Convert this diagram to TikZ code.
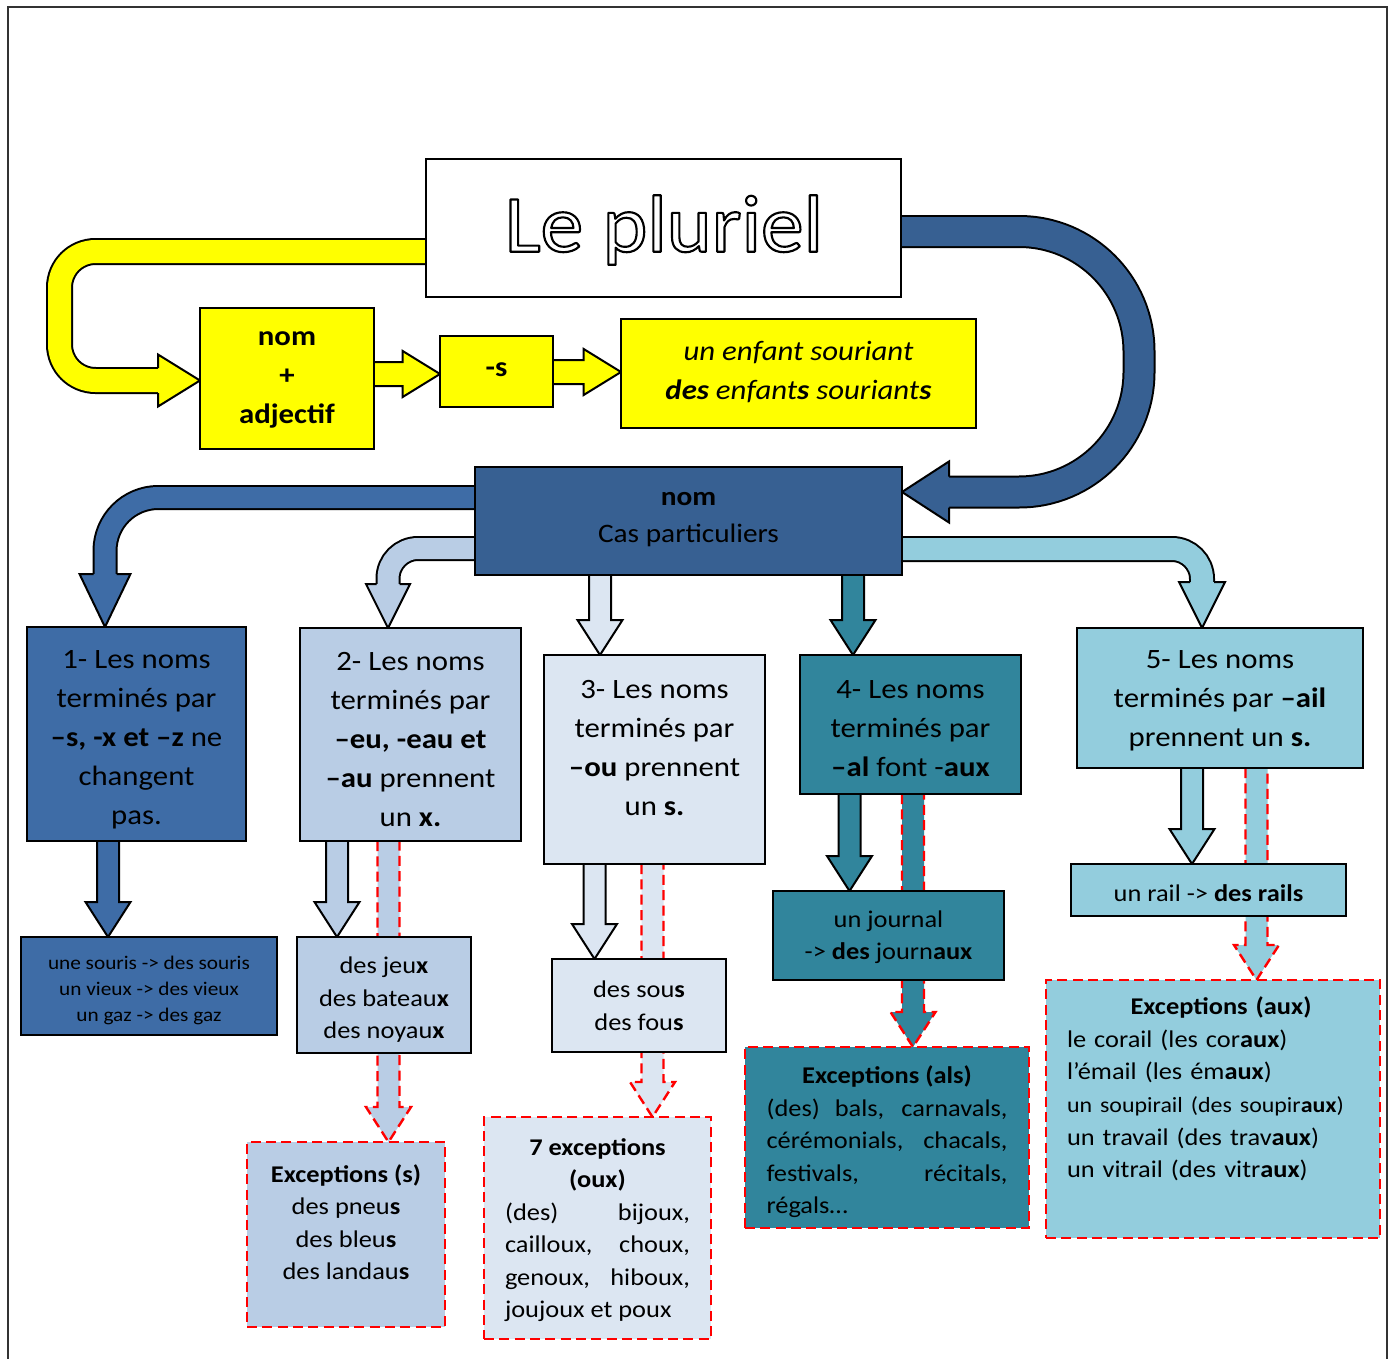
\documentclass[tikz,border=0pt]{standalone}
\usepackage{fontspec}
\setmainfont{Carlito}[FakeStretch=1.1]
\newfontfamily\titlefont{Carlito}[FakeStretch=1.05]
\usetikzlibrary{calc,fit,backgrounds}
\pgfdeclarelayer{bottom}
\pgfsetlayers{bottom,background,main}
\definecolor{nomblue}{RGB}{55,96,146}
\definecolor{blueone}{RGB}{62,108,166}
\definecolor{lbtwo}{RGB}{185,205,229}
\definecolor{lbthree}{RGB}{220,230,242}
\definecolor{tealfour}{RGB}{49,133,156}
\definecolor{lbfive}{RGB}{147,205,221}
\definecolor{yel}{RGB}{255,255,0}
\definecolor{dred}{RGB}{255,0,0}
\newcommand\fLg{\fontsize{21}{29.25}\selectfont}
\newcommand\fNom{\fontsize{20}{27.75}\selectfont}
\newcommand\fMd{\fontsize{18}{24.4}\selectfont}
\newcommand\fSm{\fontsize{14.5}{19.5}\selectfont}
\newcommand\outlinetext[1]{{\color{white}\special{pdf:literal direct 2 Tr 1.6 w 0 G 1 j}#1\special{pdf:literal direct 0 Tr}}}
\newcommand\fatdown[3]{%
 \filldraw[#1] let \p1=#2, \p2=#3 in
  (\x2-8.25pt,\y1) -- (\x2-8.25pt,\y2+26.25pt) -- (\x2-16.875pt,\y2+26.25pt) -- (\x2,\y2) -- (\x2+16.875pt,\y2+26.25pt) -- (\x2+8.25pt,\y2+26.25pt) -- (\x2+8.25pt,\y1);}
\newcommand\fatright[3]{%
 \filldraw[#1] let \p1=#2, \p2=#3 in
  (\x1,\y2+9pt) -- (\x2-28pt,\y2+9pt) -- (\x2-28pt,\y2+17.25pt) -- (\x2,\y2) -- (\x2-28pt,\y2-17.25pt) -- (\x2-28pt,\y2-9pt) -- (\x1,\y2-9pt);}
\newcommand\headdown[5]{%
 \filldraw[#1] let \p1=#2 in (\x1-#3,\y1+#5) -- (\x1-#4,\y1+#5) -- (\x1,\y1) -- (\x1+#4,\y1+#5) -- (\x1+#3,\y1+#5);}
\newcommand\headright[5]{%
 \filldraw[#1] let \p1=#2 in (\x1-#5,\y1+#3) -- (\x1-#5,\y1+#4) -- (\x1,\y1) -- (\x1-#5,\y1-#4) -- (\x1-#5,\y1-#3);}
\newcommand\headleft[5]{%
 \filldraw[#1] let \p1=#2 in (\x1+#5,\y1+#3) -- (\x1+#5,\y1+#4) -- (\x1,\y1) -- (\x1+#5,\y1-#4) -- (\x1+#5,\y1-#3);}
\tikzset{
 box/.style={draw=black, line width=1.8pt, inner sep=0pt, outer sep=0pt},
 dbox/.style={draw=dred, line width=1.9pt, dash pattern=on 7.5pt off 4pt, inner sep=0pt, outer sep=0pt},
 arr/.style={draw=black, line width=1.5pt, line join=miter},
 darr/.style={draw=dred, line width=1.8pt, dash pattern=on 7.5pt off 4pt},
 band/.style={draw=black, line width=1.5pt},
 txt/.style={inner sep=0pt, align=center, text=black},
}
\begin{document}
\begin{tikzpicture}[x=0.75pt, y=-0.75pt]
\useasboundingbox (0,0) rectangle (1392,1359);
\begin{pgfonlayer}{bottom}
\fill[white] (0,0) rectangle (1392,1359);
\end{pgfonlayer}
% boxes
\node[box, fill=white, fit={(426,159)(901,297)}] (title) {};
\node[box, fill=yel, fit={(200,308)(374,449)}] (nomadj) {};
\node[box, fill=yel, fit={(440,336)(553,407)}] (sbox) {};
\node[box, fill=yel, fit={(621,319)(976,428)}] (enfant) {};
\node[box, fill=nomblue, fit={(475,467)(902,575)}] (nom) {};
\node[box, fill=blueone, fit={(27,627)(246,841)}] (b1) {};
\node[box, fill=lbtwo, fit={(300,628)(521,841)}] (b2) {};
\node[box, fill=lbthree, fit={(544,655)(765,864)}] (b3) {};
\node[box, fill=tealfour, fit={(800,655)(1021,794)}] (b4) {};
\node[box, fill=lbfive, fit={(1077,628)(1363,768)}] (b5) {};
\node[box, fill=blueone, fit={(21,937)(277,1035)}] (souris) {};
\node[box, fill=lbtwo, fit={(297,937)(471,1053)}] (jeux) {};
\node[box, fill=lbthree, fit={(552,959)(726,1052)}] (sous) {};
\node[box, fill=tealfour, fit={(773,891)(1004,980)}] (journal) {};
\node[box, fill=lbfive, fit={(1071,864)(1346,916)}] (rail) {};
\node[dbox, fill=lbtwo, fit={(247,1142)(445,1327)}] (excs) {};
\node[dbox, fill=lbthree, fit={(484,1117)(711,1339)}] (excsept) {};
\node[dbox, fill=tealfour, fit={(745,1047)(1029,1228)}] (als) {};
\node[dbox, fill=lbfive, fit={(1046,980)(1380,1238)}] (aux) {};
% arrows
\begin{pgfonlayer}{background}
\coordinate (SY) at ($(title.north west)+(0,92.5)$);
\coordinate (TY) at ($(nomadj.west)+(0,2)$);
\coordinate (HY) at ($(TY)+(-42,0)$);
\coordinate (yL) at (59.5,300);
\draw[band, double=yel, double distance=17.25pt, rounded corners=27pt] (SY) -- (SY -| yL) -- (yL |- HY) -- (HY);
\headright{arr, fill=yel}{(TY)}{9.375pt}{19.5pt}{31.5pt}
\fatright{arr, fill=yel}{(nomadj.east)}{($(sbox.west)+(0,2.5)$)}
\fatright{arr, fill=yel}{(sbox.east)}{($(enfant.west)+(0,-1.5)$)}
\coordinate (S0) at ($(title.north east)+(0,72.5)$);
\coordinate (T0) at ($(nom.north east)+(0,25)$);
\coordinate (H0) at ($(T0)+(47,0)$);
\coordinate (uR) at (1139,300);
\draw[band, double=nomblue, double distance=21.75pt, rounded corners=90pt] (S0) -- (S0 -| uR) -- (uR |- H0) -- (H0);
\headleft{arr, fill=nomblue}{(T0)}{11.625pt}{22.9pt}{35.25pt}
\coordinate (S1) at ($(nom.north west)+(0,30.5)$);
\coordinate (T1) at ($(b1.north west)+(78,0)$);
\coordinate (H1) at ($(T1)+(0,-53)$);
\draw[band, double=blueone, double distance=15.75pt, rounded corners=40pt] (S1) -- (S1 -| H1) -- (H1);
\headdown{arr, fill=blueone}{(T1)}{8.625pt}{19.1pt}{39.75pt}
\coordinate (S2) at ($(nom.north west)+(0,81.5)$);
\coordinate (T2) at ($(b2.north west)+(88,0)$);
\coordinate (H2) at ($(T2)+(0,-44)$);
\draw[band, double=lbtwo, double distance=15.75pt, rounded corners=22.5pt] (S2) -- (S2 -| H2) -- (H2);
\headdown{arr, fill=lbtwo}{(T2)}{8.625pt}{16.5pt}{33pt}
\coordinate (S5) at ($(nom.north east)+(0,82)$);
\coordinate (T5) at ($(b5.north west)+(125,0)$);
\coordinate (H5) at ($(T5)+(0,-46)$);
\draw[band, double=lbfive, double distance=16.5pt, rounded corners=22.5pt] (S5) -- (S5 -| H5) -- (H5);
\headdown{arr, fill=lbfive}{(T5)}{9pt}{17.25pt}{34.5pt}
\fatdown{arr, fill=lbthree}{(nom.south)}{($(b3.north west)+(56,0)$)}
\fatdown{arr, fill=tealfour}{(nom.south)}{($(b4.north west)+(53,0)$)}
\fatdown{arr, fill=blueone}{(b1.south)}{($(souris.north west)+(87,0)$)}
\fatdown{arr, fill=lbtwo}{(b2.south)}{($(jeux.north west)+(40,0)$)}
\fatdown{darr, fill=lbtwo}{(b2.south)}{($(excs.north west)+(141.5,0)$)}
\fatdown{arr, fill=lbthree}{(b3.south)}{($(sous.north west)+(42.5,0)$)}
\fatdown{darr, fill=lbthree}{(b3.south)}{($(excsept.north west)+(168.5,0)$)}
\fatdown{arr, fill=tealfour}{(b4.south)}{($(journal.north west)+(76.5,0)$)}
\fatdown{darr, fill=tealfour}{(b4.south)}{($(als.north west)+(168,0)$)}
\fatdown{arr, fill=lbfive}{(b5.south)}{($(rail.north west)+(121,0)$)}
\fatdown{darr, fill=lbfive}{(b5.south)}{($(aux.north west)+(210.5,0)$)}
\end{pgfonlayer}
% texts
\node[inner sep=0pt] (tt) at (664,230) {\titlefont\fontsize{61}{62}\selectfont\outlinetext{Le pluriel}};
\node[txt, font=\fLg] (tna) at (287,380) {\textbf{nom}\\\textbf{+}\\\textbf{adjectif}};
\node[txt, font=\fLg] (ts) at (496.5,370) {\textbf{-s}};
\node[txt, font=\fLg] (ten) at (798.5,372) {\textit{un enfant souriant}\\\textit{\textbf{des} enfant\textbf{s} souriant\textbf{s}}};
\node[txt, font=\fNom] (tnom) at (688.5,520) {\textbf{nom}\\Cas particuliers};
\node[txt, font=\fLg] (t1) at (136.5,740) {1- Les noms\\terminés par\\\textbf{–s, -x et –z} ne\\changent\\pas.};
\node[txt, font=\fLg] (t2) at (410.5,740) {2- Les noms\\terminés par\\\textbf{–eu, -eau et}\\\textbf{–au} prennent\\un \textbf{x.}};
\node[txt, font=\fLg] (t3) at (654.5,748) {3- Les noms\\terminés par\\\textbf{–ou} prennent\\un \textbf{s.}};
\node[txt, font=\fLg] (t4) at (910.5,729) {4- Les noms\\terminés par\\\textbf{–al} font -\textbf{aux}};
\node[txt, font=\fLg] (t5) at (1220,701) {5- Les noms\\terminés par \textbf{–ail}\\prennent un \textbf{s.}};
\node[txt, font=\fSm] (tsou) at (149,990) {une souris -> des souris\\un vieux -> des vieux\\un gaz -> des gaz};
\node[txt, font=\fMd] (tjeux) at (384,1000) {des jeu\textbf{x}\\des bateau\textbf{x}\\des noyau\textbf{x}};
\node[txt, font=\fMd] (tsous) at (639,1006) {des sou\textbf{s}\\des fou\textbf{s}};
\node[txt, font=\fMd] (tjour) at (888.5,937) {un journal\\-> \textbf{des} journ\textbf{aux}};
\node[txt, font=\fMd] (trail) at (1208.5,893) {un rail -> \textbf{des rails}};
\node[txt, font=\fMd] (texs) at (346,1222) {\textbf{Exceptions (s)}\\des pneu\textbf{s}\\des bleu\textbf{s}\\des landau\textbf{s}};
\node[txt, font=\fMd] (tex7) at (597.5,1230) {\textbf{7 exceptions}\\\textbf{(oux)}\\\makebox[138.75pt][s]{(des) bijoux,}\\\makebox[138.75pt][s]{cailloux, choux,}\\\makebox[138.75pt][s]{genoux, hiboux,}\\\makebox[138.75pt][l]{joujoux et poux}};
\node[txt, font=\fMd] (tals) at (887,1142) {\textbf{Exceptions (als)}\\\makebox[180.75pt][s]{(des) bals, carnavals,}\\\makebox[180.75pt][s]{cérémonials, chacals,}\\\makebox[180.75pt][s]{festivals, récitals,}\\\makebox[180.75pt][l]{régals…}};
\node[inner sep=0pt, text width=231pt, align=left, font=\fMd] (taux) at (1221,1089) {\makebox[\linewidth][c]{\textbf{Exceptions (aux)}}\\le corail (les cor\textbf{aux})\\l’émail (les ém\textbf{aux})\\{\fontsize{16.3}{24.4}\selectfont un soupirail (des soupir\textbf{aux})}\\un travail (des trav\textbf{aux})\\un vitrail (des vitr\textbf{aux})};
% frame
\draw[line width=1.5pt, black!80] (8,1359) -- (8,7) -- (1387,7) -- (1387,1359);
\end{tikzpicture}
\end{document}
